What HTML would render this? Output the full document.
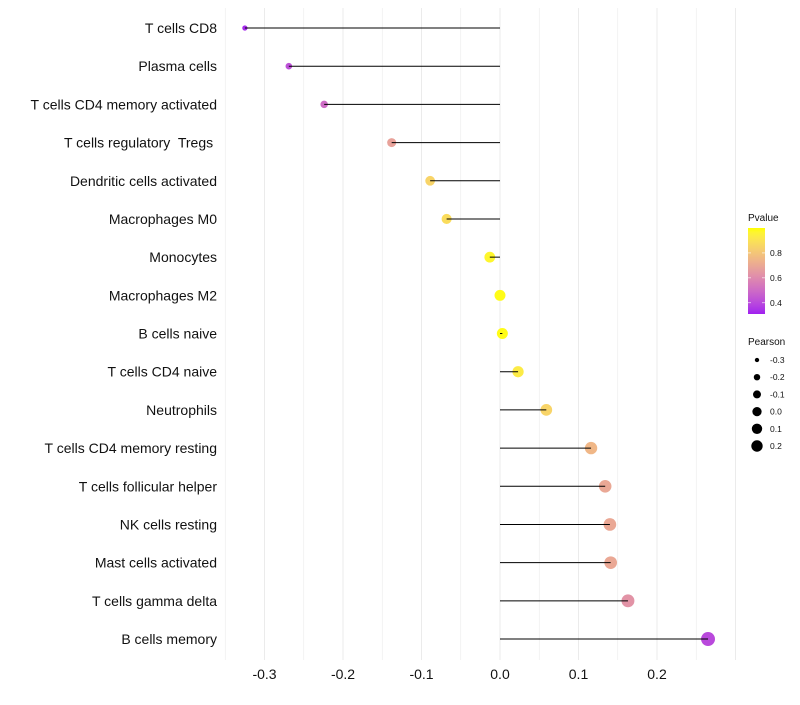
<!DOCTYPE html>
<html><head><meta charset="utf-8"><style>body{margin:0;background:#fff}svg{font-family:"Liberation Sans",sans-serif}text{white-space:pre}</style></head>
<body>
<svg id="c" width="800" height="700"></svg>
<script>
const categories=["T cells CD8","Plasma cells","T cells CD4 memory activated","T cells regulatory  Tregs ","Dendritic cells activated","Macrophages M0","Monocytes","Macrophages M2","B cells naive","T cells CD4 naive","Neutrophils","T cells CD4 memory resting","T cells follicular helper","NK cells resting","Mast cells activated","T cells gamma delta","B cells memory"];
const pearson=[-0.325,-0.269,-0.224,-0.138,-0.089,-0.068,-0.013,0.0,0.003,0.023,0.059,0.116,0.134,0.140,0.141,0.163,0.265];
const pvalue=[0.33,0.42,0.5,0.68,0.85,0.88,0.97,0.99,0.99,0.93,0.85,0.75,0.70,0.70,0.70,0.63,0.40];
const xTicks=[-0.3,-0.2,-0.1,0.0,0.1,0.2];
const pTicks=[0.4,0.6,0.8];
const sizeTicks=[-0.3,-0.2,-0.1,0.0,0.1,0.2];
const NS="http://www.w3.org/2000/svg",svg=document.getElementById('c');
function mk(t,a,p){const e=document.createElementNS(NS,t);for(const k in a)e.setAttribute(k,a[k]);(p||svg).appendChild(e);return e;}
const X=v=>500+v*785, Y=i=>28+i*38.19;
const R=v=>Math.sqrt(Math.max(2.25,30+71*v));
const RL=v=>Math.sqrt(Math.max(1,21.4+55.4*v));
const pMin=0.31,pMax=1.0;
function s2l(c){c/=255;return c<=0.04045?c/12.92:Math.pow((c+0.055)/1.055,2.4);}
function l2s(c){c=c<=0.0031308?12.92*c:1.055*Math.pow(c,1/2.4)-0.055;return Math.round(Math.min(1,Math.max(0,c))*255);}
function toLab(rgb){const [r,g,b]=rgb.map(s2l);let x=(0.4124*r+0.3576*g+0.1805*b)/0.95047,y=0.2126*r+0.7152*g+0.0722*b,z=(0.0193*r+0.1192*g+0.9505*b)/1.08883;
const f=t=>t>0.008856?Math.cbrt(t):7.787*t+16/116;x=f(x);y=f(y);z=f(z);return[116*y-16,500*(x-y),200*(y-z)];}
function fromLab(L){let y=(L[0]+16)/116,x=L[1]/500+y,z=y-L[2]/200;const f=t=>t*t*t>0.008856?t*t*t:(t-16/116)/7.787;x=f(x)*0.95047;y=f(y);z=f(z)*1.08883;
return[l2s(3.2406*x-1.5372*y-0.4986*z),l2s(-0.9689*x+1.8758*y+0.0415*z),l2s(0.0557*x-0.2040*y+1.0570*z)];}
const LA=toLab([160,32,240]),LB=toLab([255,255,0]);
function col(p){let t=Math.min(1,Math.max(0,(p-pMin)/(pMax-pMin)));return`rgb(${fromLab(LA.map((v,i)=>v+(LB[i]-v)*t)).join(',')})`;}
const PY=p=>314-(p-pMin)/(pMax-pMin)*86;
for(let k=-7;k<=6;k++){const v=k*0.05;const g=mk('line',{x1:X(v),x2:X(v),y1:8,y2:660,stroke:'#ebebeb','stroke-width':k%2===0?1:0.6});
}
xTicks.forEach(v=>{const t=mk('text',{x:X(v),y:679,'text-anchor':'middle','font-size':14,fill:'#111'});t.textContent=v.toFixed(1);
});
categories.forEach((c,i)=>{
 const t=mk('text',{x:217,y:Y(i)+5,'text-anchor':'end','font-size':14,fill:'#111'});t.textContent=c;
 
 const d=mk('circle',{cx:X(pearson[i]),cy:Y(i),r:R(pearson[i]),fill:col(pvalue[i])});
 
 const l=mk('line',{x1:X(0),x2:X(pearson[i]),y1:Y(i),y2:Y(i),stroke:'#000','stroke-width':1});
 
});
let t=mk('text',{x:748,y:221,'font-size':10,fill:'#111'});t.textContent='Pvalue';

const defs=mk('defs',{}),gr=mk('linearGradient',{id:'pg',x1:0,y1:1,x2:0,y2:0},defs);
for(let k=0;k<=20;k++){mk('stop',{offset:k/20,'stop-color':col(pMin+(pMax-pMin)*k/20)},gr);}
const cb=mk('rect',{x:748,y:228,width:17,height:86,fill:'url(#pg)'});

pTicks.forEach(p=>{mk('line',{x1:748,x2:751,y1:PY(p),y2:PY(p),stroke:'#fff','stroke-width':0.6});mk('line',{x1:762,x2:765,y1:PY(p),y2:PY(p),stroke:'#fff','stroke-width':0.6});
 const e=mk('text',{x:770,y:PY(p)+3,'font-size':8.5,fill:'#111'});e.textContent=p.toFixed(1);
 });
t=mk('text',{x:748,y:345,'font-size':10,fill:'#111'});t.textContent='Pearson';

sizeTicks.forEach((v,k)=>{const y=360+k*17.2;
 const d=mk('circle',{cx:757,cy:y,r:RL(v),fill:'#000'});
 const e=mk('text',{x:770,y:y+3,'font-size':8.5,fill:'#111'});e.textContent=v.toFixed(1);
 });
</script>
</body></html>
